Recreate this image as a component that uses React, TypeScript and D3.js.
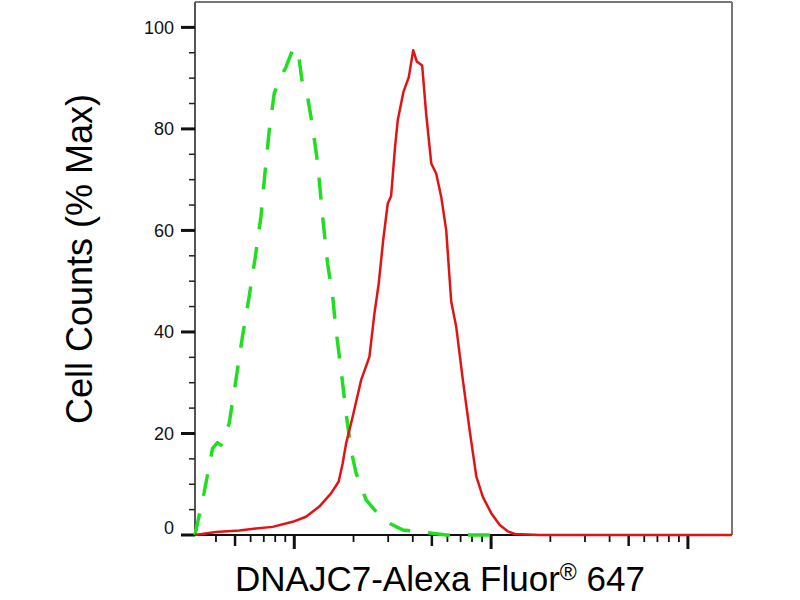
import React from "react";
import * as d3 from "d3";

// Isotype control (green dashed) — intensity values and % Max
const greenX = [31.3, 34.8, 38.4, 40.7, 42.4, 46.7, 50.5, 54.5, 59.0, 63.4, 67.7, 71.2, 74.6, 79.1, 83.9, 90.8, 98.0, 101.2, 105.2, 109.4, 116.9, 123.9, 131.5, 139.3, 147.6, 156.7, 162.9, 172.9, 183.3, 194.4, 206.1, 231.7, 260.6, 304.3, 355.6, 467.7, 591.6, 1104];
const greenY = [0, 8.3, 17, 18.2, 17.7, 22, 30.5, 39, 47, 54.8, 62.7, 71.9, 79.7, 87, 89.6, 92.2, 95.5, 96, 94.5, 89.6, 86.3, 80.4, 73.2, 62.7, 53.5, 47, 40.4, 32.5, 24, 16.7, 12.2, 6.9, 4.6, 2.3, 1, 0.5, 0, 0];

// DNAJC7 stained sample (red solid)
const redX = [31.3, 40.0, 52.5, 63.8, 77.6, 98.0, 114.7, 134.0, 153.7, 168.0, 176.1, 183.3, 198.0, 218.5, 240.8, 255.4, 268.5, 283.7, 298.5, 310.5, 325.0, 335.5, 358.7, 381.8, 402.0, 419.0, 446.4, 467.7, 496.6, 526.0, 558.1, 591.6, 627.1, 665.0, 718.8, 777.6, 841.4, 908.0, 1002, 1104, 1218, 1318, 1765, 16750];
const redY = [0, 0.6, 0.9, 1.3, 1.6, 2.6, 3.6, 5.6, 8.2, 10.5, 14.1, 18, 23.3, 30.5, 35.1, 43.6, 49.5, 58.5, 65.3, 66.8, 76.4, 81.7, 87.3, 90.2, 95.5, 93.3, 92.5, 83, 73.2, 71.2, 66.6, 60, 46, 41, 30.5, 20.7, 11.5, 7.5, 4.3, 2, 0.7, 0.2, 0, 0];

const yTicks = [0, 20, 40, 60, 80, 100];
const yMinorTicks = [5, 10, 15, 25, 30, 35, 45, 50, 55, 65, 70, 75, 85, 90, 95];
const xDomain = [31.3, 16750];
const yDomain = [0, 105];
const decades = [10, 100, 1000, 10000];
const xLabelMain = "DNAJC7-Alexa Fluor";
const xLabelSup = "®";
const xLabelTail = " 647";
const yLabel = "Cell Counts (% Max)";

export default function App() {
  const left = 195, right = 732, top = 2, bottom = 535;
  const x = d3.scaleLog().domain(xDomain).range([left, right]);
  const y = d3.scaleLinear().domain(yDomain).range([bottom, top]);

  const line = d3
    .line<[number, number]>()
    .x((d) => x(d[0]))
    .y((d) => y(d[1]));

  const greenPts = greenX.map((v, i) => [v, greenY[i]] as [number, number]);
  const redPts = redX.map((v, i) => [v, redY[i]] as [number, number]);

  const xTicks: { v: number; kind: number }[] = [];
  decades.forEach((d) => {
    for (let m = 1; m <= 9; m++) {
      const v = m * d;
      if (v >= xDomain[0] && v <= xDomain[1]) {
        xTicks.push({ v, kind: m === 1 ? 2 : m === 5 ? 1 : 0 });
      }
    }
  });

  const font = "Arial, 'Liberation Sans', Helvetica, sans-serif";

  return (
    <svg
      width={800}
      height={600}
      style={{ position: "absolute", left: 0, top: 0, background: "#fff" }}
    >
      <rect x={0} y={0} width={800} height={600} fill="#fff" />
      {/* frame */}
      <line x1={left} y1={top} x2={right} y2={top} stroke="#777" strokeWidth={2} />
      <line x1={right} y1={top} x2={right} y2={bottom} stroke="#777" strokeWidth={2} />
      <line x1={left} y1={top} x2={left} y2={bottom} stroke="#555" strokeWidth={2} />
      <line x1={left - 14} y1={bottom} x2={right} y2={bottom} stroke="#111" strokeWidth={2} />

      {/* y ticks */}
      {yTicks.map((t) => (
        <g key={"yt" + t}>
          <line x1={left - 14} x2={left} y1={y(t)} y2={y(t)} stroke="#111" strokeWidth={3} />
          <text
            x={left - 21}
            y={y(t) - (t === 0 ? 7 : 0)}
            dy="0.36em"
            textAnchor="end"
            fontFamily={font}
            fontSize={18}
            fill="#111"
          >
            {t}
          </text>
        </g>
      ))}
      {yMinorTicks.map((t) => (
        <line key={"ym" + t} x1={left - 6} x2={left} y1={y(t)} y2={y(t)} stroke="#222" strokeWidth={1.5} />
      ))}

      {/* x ticks */}
      {xTicks.map((t) => (
        <line
          key={"xt" + t.v}
          x1={x(t.v)}
          x2={x(t.v)}
          y1={bottom}
          y2={bottom + (t.kind === 2 ? 14 : t.kind === 1 ? 11 : 7)}
          stroke="#111"
          strokeWidth={t.kind === 2 ? 3 : t.kind === 1 ? 2.5 : 1.8}
        />
      ))}

      {/* curves */}
      <path
        d={line(greenPts) || ""}
        fill="none"
        stroke="#22dd22"
        strokeWidth={3.5}
        strokeDasharray="22,18"
        strokeLinejoin="round"
      />
      <path
        d={line(redPts) || ""}
        fill="none"
        stroke="#e01414"
        strokeWidth={2.5}
        strokeLinejoin="round"
      />

      {/* axis titles */}
      <text
        x={440}
        y={591}
        textAnchor="middle"
        fontFamily={font}
        fontSize={35}
        fill="#000"
      >
        {xLabelMain}
        <tspan fontSize={23} dy={-11}>{xLabelSup}</tspan>
        <tspan dy={11}>{xLabelTail}</tspan>
      </text>
      <text
        transform={`translate(92, 259) rotate(-90)`}
        textAnchor="middle"
        fontFamily={font}
        fontSize={36}
        fill="#000"
      >
        {yLabel}
      </text>
    </svg>
  );
}
